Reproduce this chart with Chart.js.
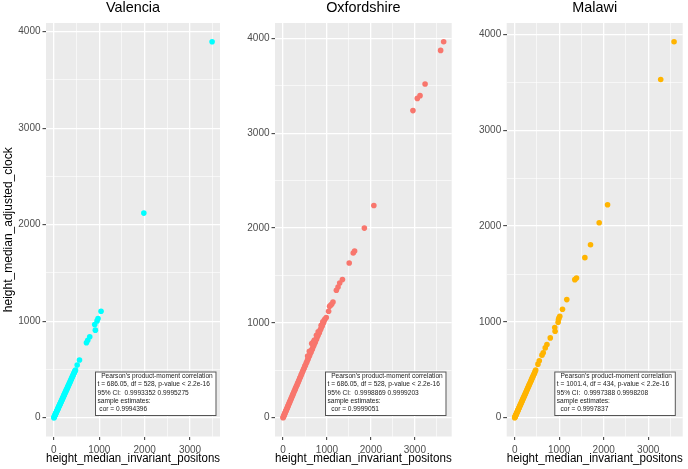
<!DOCTYPE html>
<html lang="en">
<head>
    <meta charset="UTF-8">
    <title>height_median_adjusted_clock vs height_median_invariant_positons</title>
    <script src="https://cdn.jsdelivr.net/npm/chart.js"></script>
    <style>
        body { margin: 0; background: #ffffff; }
        .panel { position: absolute; top: 0; }
    </style>
</head>
<body>
    <canvas id="valenciaChart" class="panel" width="225" height="469" style="left:0px;width:225px;height:469px"></canvas>
    <canvas id="oxfordChart" class="panel" width="230" height="469" style="left:225px;width:230px;height:469px"></canvas>
    <canvas id="malawiChart" class="panel" width="233" height="469" style="left:455px;width:233px;height:469px"></canvas>

    <script>
        // Panel titles and axis titles
        const panelNames = ['Valencia', 'Oxfordshire', 'Malawi'];
        const xTitle = 'height_median_invariant_positons';
        const yTitle = 'height_median_adjusted_clock';

        // Grid lines every 500, labels every 1000
        const gridValues = [0, 500, 1000, 1500, 2000, 2500, 3000, 3500, 4000];
        const labelValues = [0, 1000, 2000, 3000, 4000];

        // Valencia points
        const valenciaX = [0, 5, 10, 16, 22, 28, 34, 40, 47, 53, 60, 66, 73, 80, 86, 93, 100, 107, 114, 121,
            128, 136, 143, 150, 158, 165, 173, 180, 188, 196, 204, 212, 220, 228, 236, 244, 253, 261, 270, 278,
            287, 296, 305, 314, 323, 332, 341, 350, 360, 369, 379, 388, 398, 408, 418, 428, 438, 448, 458, 468,
            476, 513, 564, 717, 746, 790, 900, 914, 951, 973, 1039, 1982, 3487];
        const valenciaY = [0, 3, 12, 15, 24, 28, 37, 40, 50, 54, 63, 68, 77, 82, 91, 96, 105, 110, 120, 125,
            135, 140, 150, 155, 166, 170, 181, 186, 197, 202, 214, 219, 231, 236, 247, 252, 265, 270, 283, 288,
            300, 306, 319, 325, 338, 344, 357, 363, 376, 383, 396, 403, 416, 424, 437, 444, 457, 465, 478, 486,
            493, 545, 597, 776, 803, 838, 966, 907, 1003, 1028, 1103, 2120, 3895];

        // Oxfordshire points
        const oxfordX = [0, 6, 12, 19, 26, 33, 40, 48, 56, 64, 72, 80, 89, 98, 107, 116, 125, 135, 145, 155,
            165, 175, 186, 197, 208, 219, 230, 242, 254, 266, 278, 290, 303, 316, 329, 342, 355, 368, 382, 396,
            410, 424, 438, 452, 467, 482, 497, 512, 527, 542, 557, 572, 588, 604, 620, 636, 652, 668, 684, 700,
            716, 732, 748, 764, 780, 796, 812, 828, 844, 860, 876, 892, 908, 924, 940, 956,
            560, 600, 652, 690, 714, 760, 800, 868, 906, 984, 1037, 1060, 1083, 1110, 1137, 1214, 1252, 1290,
            1352, 1506, 1598, 1629, 1851, 2067, 2957, 3057, 3118, 3233, 3587, 3656];
        const oxfordY = [0, 5, 14, 20, 29, 35, 44, 52, 62, 69, 79, 87, 98, 106, 117, 126, 137, 147, 159, 168,
            181, 190, 204, 214, 228, 238, 252, 263, 278, 289, 304, 315, 332, 343, 360, 372, 388, 400, 418, 430,
            449, 461, 479, 492, 511, 524, 544, 556, 577, 589, 609, 622, 643, 656, 679, 691, 714, 726, 749, 761,
            784, 796, 819, 830, 854, 866, 889, 900, 924, 935, 959, 970, 994, 1005, 1030, 1040,
            650, 700, 783, 800, 818, 870, 905, 976, 1011, 1057, 1123, 1176, 1186, 1200, 1221, 1344, 1379, 1421,
            1457, 1632, 1737, 1758, 2000, 2239, 3239, 3368, 3397, 3520, 3874, 3965];

        // Malawi points
        const malawiX = [0, 5, 10, 16, 22, 28, 34, 40, 47, 54, 61, 68, 75, 82, 90, 98, 106, 114, 122, 130,
            138, 147, 156, 165, 174, 183, 192, 201, 211, 221, 231, 241, 251, 261, 272, 283, 294, 305, 316, 327,
            338, 350, 362, 374, 386, 398, 410, 422, 435, 448, 460, 473,
            523, 553, 613, 642, 687, 725, 800, 901, 908, 976, 985, 995, 1014, 1074, 1171, 1351, 1389, 1577,
            1704, 1899, 2087, 3281, 3581];
        const malawiY = [0, 4, 11, 16, 24, 29, 36, 42, 50, 56, 64, 71, 79, 86, 95, 102, 112, 119, 129, 136,
            145, 154, 164, 173, 183, 192, 202, 211, 222, 232, 243, 253, 264, 274, 286, 297, 309, 320, 332, 343,
            355, 367, 381, 392, 406, 418, 431, 443, 457, 470, 484, 497,
            559, 594, 653, 677, 729, 765, 833, 942, 903, 997, 1025, 1040, 1059, 1132, 1233, 1441, 1458, 1671,
            1806, 2035, 2223, 3531, 3924];

        // Correlation test output shown in each panel
        const valenciaStats = ["  Pearson's product-moment correlation", 't = 686.05, df = 528, p-value < 2.2e-16',
            '95% CI:  0.9993352 0.9995275', 'sample estimates:', ' cor = 0.9994396'];
        const oxfordStats = ["  Pearson's product-moment correlation", 't = 686.05, df = 528, p-value < 2.2e-16',
            '95% CI:  0.9998869 0.9999203', 'sample estimates:', '  cor = 0.9999051'];
        const malawiStats = ["  Pearson's product-moment correlation", 't = 1001.4, df = 434, p-value < 2.2e-16',
            '95% CI:  0.9997388 0.9998208', 'sample estimates:', '  cor = 0.9997837'];

        const FONT = '"Liberation Sans", Arial, Helvetica, sans-serif';

        // grey panel behind the grid
        const panelBackground = {
            id: 'panelBackground',
            beforeDraw(chart) {
                const { ctx, chartArea: a } = chart;
                ctx.save();
                ctx.fillStyle = '#EBEBEB';
                ctx.fillRect(a.left, a.top, a.right - a.left, a.bottom - a.top);
                ctx.restore();
            }
        };

        // boxed text of the cor.test output
        const statsBox = {
            id: 'statsBox',
            afterDatasetsDraw(chart, args, opts) {
                const { ctx, chartArea: a } = chart;
                const x = a.left + opts.left, y = a.bottom - 65, w = 121.5, h = 44.5;
                ctx.save();
                ctx.fillStyle = '#FFFFFF';
                ctx.fillRect(x, y, w, h);
                ctx.strokeStyle = '#555555';
                ctx.lineWidth = 1;
                ctx.strokeRect(x + 0.5, y + 0.5, w - 1, h - 1);
                ctx.fillStyle = '#1A1A1A';
                ctx.font = '6.6px ' + FONT;
                ctx.textBaseline = 'middle';
                opts.lines.forEach((t, i) => ctx.fillText(t, x + 2.5, y + 4.8 + i * 8.25));
                ctx.restore();
            }
        };

        const isLabel = c => c.tick && labelValues.includes(c.tick.value);

        function setTicks(scale) {
            scale.ticks = gridValues
                .filter(v => v >= scale.min && v <= scale.max)
                .map(v => ({ value: v }));
        }

        function createPanel(canvasId, name, xs, ys, color, stats, p) {
            const points = xs.map((x, i) => ({ x: x, y: ys[i] }));
            const grid = {
                color: '#FFFFFF',
                lineWidth: c => isLabel(c) ? 1.3 : 0.6,
                tickColor: c => isLabel(c) ? '#333333' : 'rgba(0,0,0,0)',
                tickWidth: 1,
                tickLength: 3.5
            };
            const tickFont = { family: FONT, size: 10 };

            new Chart(document.getElementById(canvasId), {
                type: 'scatter',
                data: {
                    datasets: [{
                        data: points,
                        pointRadius: 2.8,
                        pointHoverRadius: 2.8,
                        pointBorderWidth: 0,
                        pointBackgroundColor: color,
                        backgroundColor: color
                    }]
                },
                options: {
                    responsive: false,
                    animation: false,
                    events: [],
                    devicePixelRatio: 1,
                    layout: { padding: { left: 0, right: p.padRight, top: 0, bottom: 0 } },
                    plugins: {
                        legend: { display: false },
                        tooltip: { enabled: false },
                        title: {
                            display: true,
                            text: name,
                            fullSize: false,
                            color: '#000000',
                            font: { family: FONT, size: 14.4, weight: 'normal', lineHeight: 1 },
                            padding: { top: 0.5, bottom: 8.1 }
                        },
                        statsBox: { left: p.boxLeft, lines: stats }
                    },
                    scales: {
                        x: {
                            type: 'linear',
                            min: p.xMin, max: p.xMax,
                            afterBuildTicks: setTicks,
                            afterFit: s => { s.height = 32.5; },
                            grid: grid,
                            border: { display: false },
                            ticks: {
                                autoSkip: false, maxRotation: 0, padding: 4,
                                color: '#4D4D4D', font: tickFont,
                                callback: v => labelValues.includes(v) ? String(v) : ''
                            },
                            title: {
                                display: true, text: xTitle, color: '#000000',
                                font: { family: FONT, size: 12 },
                                padding: { top: 0, bottom: 3.6 }
                            }
                        },
                        y: {
                            type: 'linear',
                            min: p.yMin, max: p.yMax,
                            afterBuildTicks: setTicks,
                            afterFit: s => { s.width = p.axisWidth; },
                            grid: grid,
                            border: { display: false },
                            ticks: {
                                autoSkip: false, padding: 2,
                                color: '#4D4D4D', font: tickFont,
                                callback: v => labelValues.includes(v) ? String(v) : ''
                            },
                            title: {
                                display: p.showYTitle, text: yTitle, color: '#000000',
                                font: { family: FONT, size: 12 },
                                padding: { top: 1.5, bottom: 0 }
                            }
                        }
                    }
                },
                plugins: [panelBackground, statsBox]
            });
        }

        createPanel('valenciaChart', panelNames[0], valenciaX, valenciaY, '#00FFFF', valenciaStats,
            { axisWidth: 46, padRight: 5, xMin: -174, xMax: 3661, yMin: -195, yMax: 4090, showYTitle: true, boxLeft: 49 });
        createPanel('oxfordChart', panelNames[1], oxfordX, oxfordY, '#F8766D', oxfordStats,
            { axisWidth: 50, padRight: 3.3, xMin: -183, xMax: 3839, yMin: -198, yMax: 4163, showYTitle: false, boxLeft: 50 });
        createPanel('malawiChart', panelNames[2], malawiX, malawiY, '#FFB400', malawiStats,
            { axisWidth: 51.7, padRight: 5.3, xMin: -179, xMax: 3775, yMin: -196, yMax: 4120, showYTitle: false, boxLeft: 47.6 });
    </script>
</body>
</html>
